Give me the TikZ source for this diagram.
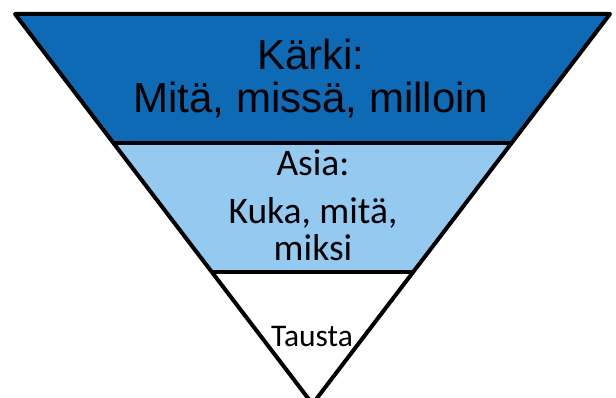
\documentclass[tikz,border=0pt]{standalone}
\usepackage{fontspec}
\setmainfont{Carlito}
\newfontfamily\arialfont{Liberation Sans}
\definecolor{darkband}{HTML}{0E6AB4}
\definecolor{lightband}{HTML}{94C9F0}
\begin{document}
\begin{tikzpicture}[x=1pt,y=1pt,
  edge/.style={line width=4pt,line join=round,line cap=round},
  toptext/.style={font=\arialfont\fontsize{42}{43}\selectfont,anchor=base,inner sep=0pt},
  midtext/.style={font=\fontsize{37.5}{42}\selectfont,anchor=base,inner sep=0pt},
  lowtext/.style={font=\fontsize{31.5}{36}\selectfont,anchor=base,inner sep=0pt}]
\clip (0,0) rectangle (616,398);
\useasboundingbox (0,0) rectangle (616,398);
% corner coordinates (y measured upwards)
\coordinate (tl) at (15,384);
\coordinate (tr) at (610,384);
\coordinate (ap) at (312.5,-6);
\coordinate (l1) at (113.4,255);
\coordinate (r1) at (511.6,255);
\coordinate (l2) at (211.8,126);
\coordinate (r2) at (413.2,126);
% bands
\fill[darkband] (tl) -- (tr) -- (r1) -- (l1) -- cycle;
\fill[lightband] (l1) -- (r1) -- (r2) -- (l2) -- cycle;
\fill[white] (l2) -- (r2) -- (ap) -- cycle;
% outlines
\draw[edge] (tl) -- (tr) -- (ap) -- cycle;
\draw[edge,line cap=butt] (l1) -- (r1);
\draw[edge,line cap=butt] (l2) -- (r2);
% texts
\node[toptext] (t1) at (311,328) {Kärki:};
\node[toptext] (t2) at (311,285) {Mitä, missä, milloin};
\node[midtext] (m1) at (313,222) {Asia:};
\node[midtext] (m2) at (313,174) {Kuka, mitä,};
\node[midtext] (m3) at (313,137) {miksi};
\node[lowtext] (b1) at (312,51) {Tausta};
\end{tikzpicture}
\end{document}
